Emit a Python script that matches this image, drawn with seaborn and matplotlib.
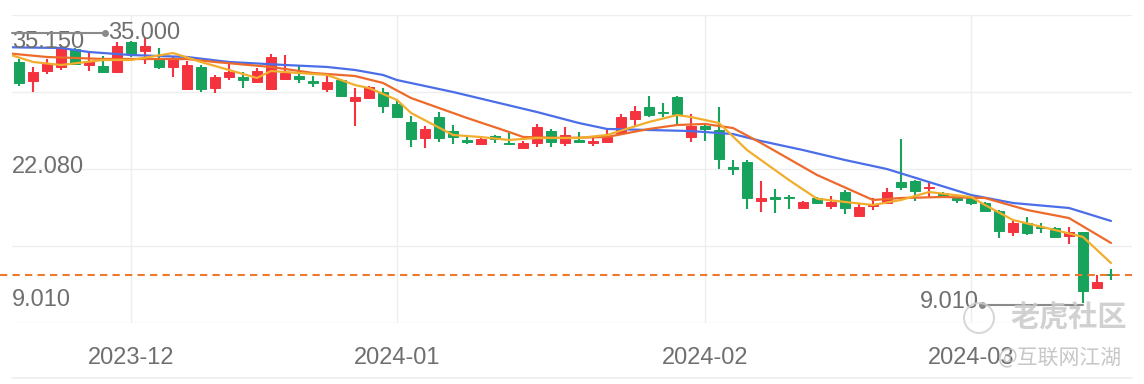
import pandas as pd
import numpy as np
import seaborn as sns
import matplotlib.pyplot as plt
from matplotlib.patches import Ellipse

# trading days (HK calendar), 21 Nov 2023 - 15 Mar 2024
hk_holidays = ['2023-12-25', '2023-12-26', '2024-01-01', '2024-02-12', '2024-02-13']
dates = pd.bdate_range('2023-11-21', '2024-03-15', freq='C', holidays=hk_holidays)

opens = [32.22, 30.39, 31.35, 31.74, 33.47, 31.93, 31.83, 31.25, 34.14, 33.28,
         32.60, 31.74, 29.62, 31.74, 29.71, 30.77, 30.77, 30.29, 29.62, 30.58,
         30.87, 30.39, 29.62, 30.48, 28.46, 28.75, 29.33, 28.17, 26.44, 24.90,
         26.92, 25.57, 24.71, 24.32, 25.09, 24.42, 23.94, 24.42, 25.57, 24.42,
         24.71, 24.42, 24.51, 25.38, 26.73, 27.88, 27.45, 28.85, 24.99, 26.05,
         25.67, 22.06, 22.59, 18.83, 19.17, 19.22, 18.16, 19.12, 18.35, 19.70,
         17.39, 18.35, 18.64, 20.66, 20.76, 20.08, 19.60, 19.12, 19.12, 18.64,
         17.87, 15.85, 16.71, 16.33, 16.23, 15.46, 15.85, 10.45, 11.76]
highs = [32.51, 31.74, 32.51, 33.86, 33.57, 33.08, 32.80, 34.14, 34.24, 34.62,
         33.57, 32.70, 32.31, 31.93, 30.97, 32.22, 31.25, 31.64, 32.99, 32.89,
         31.83, 30.87, 30.87, 30.58, 29.71, 29.91, 29.71, 28.46, 27.02, 26.05,
         27.40, 26.15, 25.09, 24.90, 25.19, 25.38, 24.61, 26.25, 25.77, 25.96,
         25.48, 25.00, 25.67, 27.21, 27.98, 28.94, 28.27, 28.94, 27.21, 26.34,
         27.88, 22.78, 22.78, 20.76, 19.99, 19.41, 18.80, 19.22, 19.31, 19.89,
         18.64, 19.12, 20.08, 24.80, 20.85, 20.57, 19.70, 19.22, 19.22, 18.74,
         17.97, 17.00, 17.29, 16.71, 16.33, 16.33, 15.85, 11.71, 12.28]
lows = [29.91, 29.33, 31.06, 31.45, 31.93, 31.35, 31.16, 31.20, 32.70, 32.03,
        31.54, 30.77, 29.55, 29.33, 29.23, 30.48, 29.71, 30.20, 29.52, 30.50,
        30.20, 29.81, 29.33, 28.85, 26.05, 28.70, 27.31, 26.83, 24.03, 23.94,
        24.51, 24.32, 24.32, 24.23, 24.42, 24.30, 23.90, 24.03, 24.03, 24.13,
        24.45, 24.13, 24.42, 25.30, 25.96, 26.92, 26.92, 26.15, 24.51, 24.61,
        21.91, 21.34, 18.06, 17.77, 17.68, 18.06, 18.10, 18.54, 18.06, 17.58,
        17.35, 17.97, 18.60, 19.89, 18.83, 19.22, 19.20, 18.64, 18.45, 17.77,
        15.27, 15.46, 15.56, 15.75, 15.30, 14.69, 9.01, 10.36, 11.22]
closes = [30.20, 31.25, 32.12, 33.66, 32.03, 32.31, 31.25, 33.76, 32.99, 33.76,
          31.74, 32.60, 31.93, 29.62, 30.77, 31.25, 30.48, 31.35, 32.70, 31.16,
          30.58, 30.20, 30.29, 28.95, 28.85, 29.81, 27.98, 26.92, 24.80, 25.77,
          24.90, 24.99, 24.51, 24.80, 24.80, 24.32, 24.42, 25.96, 24.51, 25.19,
          24.51, 24.61, 25.00, 26.92, 27.50, 27.11, 27.35, 27.21, 26.05, 25.77,
          22.88, 21.96, 19.12, 19.12, 19.07, 19.12, 18.76, 18.64, 18.74, 18.16,
          18.25, 18.54, 19.70, 20.18, 19.80, 20.18, 19.22, 18.93, 18.64, 17.87,
          15.94, 16.71, 15.75, 16.28, 15.37, 15.85, 10.17, 11.03, 11.70]

# moving averages (candle number -> value)
ma5_idx = [0, 2, 4, 7, 9, 12, 14, 16, 18, 19, 21, 23, 25, 26, 27, 28, 29, 32, 34, 36,
           38, 41, 43, 46, 48, 49, 51, 53, 56, 58, 60, 62, 64, 66, 69, 70, 72, 75, 77, 79]
ma5 = [33.08, 32.22, 31.93, 32.41, 32.41, 33.08, 32.22, 31.45, 30.68, 31.35,
       31.16, 30.97, 30.00, 29.71, 29.14, 28.56, 27.31, 25.19, 24.99, 24.71,
       24.90, 24.90, 25.19, 26.44, 27.11, 26.92, 26.34, 23.74, 20.85, 19.05,
       18.74, 18.45, 18.93, 19.70, 19.22, 18.45, 17.00, 16.04, 15.37, 12.86]
ma10_idx = [0, 3, 7, 9, 13, 15, 19, 22, 25, 27, 29, 33, 36, 37, 40, 43, 46, 48, 50,
            52, 54, 58, 62, 64, 67, 70, 73, 76, 79]
ma10 = [33.08, 32.70, 32.51, 32.51, 32.50, 32.22, 31.74, 31.16, 30.87, 30.20,
        28.75, 26.83, 25.48, 25.00, 24.90, 25.00, 25.77, 26.15, 26.25, 25.86,
        24.42, 21.34, 18.93, 19.12, 19.22, 19.12, 17.97, 17.19, 14.79]
ma30_idx = [0, 1, 4, 6, 9, 13, 16, 20, 23, 25, 27, 28, 32, 38, 41, 43, 46, 49, 52,
            54, 57, 60, 63, 66, 69, 72, 76, 79]
ma30 = [33.66, 33.62, 33.57, 33.18, 32.89, 32.70, 32.22, 31.93, 31.74, 31.45,
        30.97, 30.48, 29.33, 27.40, 26.34, 25.77, 25.67, 25.57, 25.28, 24.61,
        23.74, 22.78, 21.91, 20.66, 19.41, 18.64, 18.16, 16.91]

axis_labels = ['35.150', '22.080', '9.010']
high_mark = 35.000
low_mark = 9.010

df = pd.DataFrame({'date': dates, 'open': opens, 'high': highs, 'low': lows, 'close': closes})
df['n'] = np.arange(1, len(df) + 1)

sns.set_theme(style="white")
plt.rcParams['font.family'] = ['Liberation Sans', 'DejaVu Sans']

GREEN = '#17a35c'
RED = '#f4333f'
GREY = '#6f6f6f'

fig = plt.figure(figsize=(11.44, 3.84), dpi=100)
ax = fig.add_axes([12 / 1144, 61 / 384, 1120 / 1144, 308 / 384])

up = df['close'] >= df['open']
cols = np.where(up, RED, GREEN)
ax.vlines(df['n'], df['low'], df['high'], colors=cols, linewidth=1.5, zorder=2)
body_lo = np.minimum(df['open'], df['close'])
body_h = (df['close'] - df['open']).abs()
ax.bar(df['n'], body_h, bottom=body_lo, width=0.7, color=cols, edgecolor=cols,
       linewidth=0.7, zorder=3)

sns.lineplot(x=ma30_idx, y=ma30, ax=ax, color='#4b6ee8', linewidth=1.6, zorder=4)
sns.lineplot(x=ma10_idx, y=ma10, ax=ax, color='#ee6a2a', linewidth=1.6, zorder=4)
sns.lineplot(x=ma5_idx, y=ma5, ax=ax, color='#f2ad2c', linewidth=1.6, zorder=4)

# last price
ax.axhline(df['close'].iloc[-1], xmin=-12 / 1120, xmax=1, clip_on=False,
           color='#ee7a2f', linewidth=1.5, linestyle=(0, (3.5, 2.5)), zorder=5)

ax.set_xlim(0.5, 80.5)
ax.set_ylim(7.084, 36.744)
ax.set_yticks(np.linspace(7.084, 36.744, 5))
ax.set_yticklabels([])

month_start = df.groupby(df['date'].dt.to_period('M'))['n'].min()
month_start = month_start[month_start > 1]
ax.set_xticks(month_start.values)
ax.set_xticklabels([p.strftime('%Y-%m') for p in month_start.index], fontsize=17, color=GREY)
ax.tick_params(axis='both', length=0, pad=17)
ax.grid(True, color='#eeeeee', linewidth=1)
for s in ax.spines.values():
    s.set_visible(False)
ax.plot([0, 1], [-0.1786, -0.1786], transform=ax.transAxes, clip_on=False,
        color='#eeeeee', linewidth=1.2)

# price labels
for txt, yf in zip(axis_labels, [0.912, 0.506, 0.075]):
    ax.text(0.0, yf, txt, transform=ax.transAxes, ha='left', va='center',
            fontsize=17, color=GREY, zorder=6)

# high / low markers
ax.plot([0.5, 7.14], [high_mark, high_mark], color='#8a8a8a', linewidth=1.5,
        clip_on=False, zorder=6)
ax.plot([7.14], [high_mark], 'o', color='#8a8a8a', markersize=4, zorder=6)
ax.text(7.35, high_mark, f'{high_mark:.3f}', ha='left', va='center', fontsize=17,
        color=GREY, zorder=6)
ax.plot([69.8, 77], [low_mark - 0.2, low_mark - 0.2], color='#8a8a8a', linewidth=1.5, zorder=6)
ax.plot([69.8], [low_mark - 0.2], 'o', color='#8a8a8a', markersize=4, zorder=6)
ax.text(69.55, low_mark + 0.1, f'{low_mark:.3f}', ha='right', va='center', fontsize=17,
        color=GREY, zorder=6)

# watermark
cjk = ['Noto Sans CJK SC', 'DejaVu Sans']
fig.patches.append(Ellipse((979 / 1144, 1 - 318 / 384), 30 / 1144, 30 / 384,
                           transform=fig.transFigure, fill=False, edgecolor='#cfcfcf',
                           linewidth=1.5, alpha=0.8))
fig.text(1010 / 1144, 1 - 318 / 384, '老虎社区', family=cjk, fontsize=21, color='#c9c9c9',
         ha='left', va='center', alpha=0.85, fontweight='bold')
fig.text(1122 / 1144, 1 - 357 / 384, '@互联网江湖', family=cjk, fontsize=15, color='#bdbdbd',
         ha='right', va='center', alpha=0.85)

fig.savefig('out.png', dpi=100)
